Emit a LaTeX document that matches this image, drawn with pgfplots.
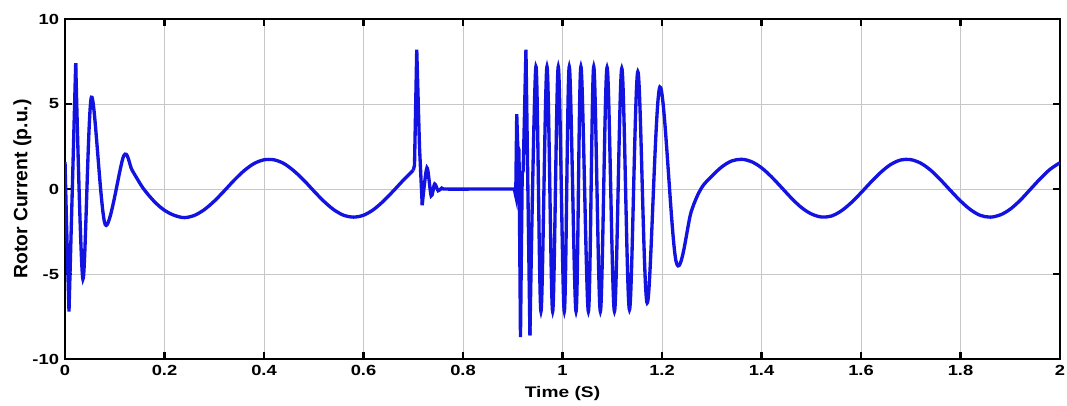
\documentclass[border=0pt]{standalone}
\usepackage{fontspec}
\setmainfont{Liberation Sans}
\usepackage{graphicx}
\usepackage{pgfplots}
\pgfplotsset{compat=1.18}
\usetikzlibrary{calc}
\definecolor{curve}{RGB}{18,18,225}
\newcommand{\sx}[1]{\scalebox{1.25}[1]{#1}}
\begin{document}
\begin{tikzpicture}
\begin{axis}[
  scale only axis,
  width=746pt, height=255pt,
  xmin=0, xmax=2, ymin=-10, ymax=10,
  xtick={0,0.2,...,2.01}, ytick={-10,-5,0,5,10},
  xticklabels={\sx{0},\sx{0.2},\sx{0.4},\sx{0.6},\sx{0.8},\sx{1},\sx{1.2},\sx{1.4},\sx{1.6},\sx{1.8},\sx{2}},
  yticklabels={\sx{-10},\sx{-5},\sx{0},\sx{5},\sx{10}},
  grid=major,
  major grid style={black!22, line width=0.7pt},
  axis line style={black, line width=1.6pt},
  tick style={black, line width=1.6pt},
  tick align=inside, major tick length=5pt,
  xtick pos=both, ytick pos=both,
  ticklabel style={font=\fontsize{11}{12}\selectfont\bfseries},
  xticklabel style={yshift=-1pt},
  yticklabel style={xshift=-1pt},
  xlabel={\sx{Time (S)}}, ylabel={Rotor Current (p.u.)},
  xlabel style={font=\fontsize{11.5}{12}\selectfont\bfseries, at={(axis description cs:0.5,0)}, anchor=north, yshift=-17pt},
  ylabel style={font=\fontsize{14.5}{15}\selectfont\bfseries, yshift=-6pt},
]
\addplot[curve, line width=2.5pt] coordinates {(0,1.6) (0.003,-2) (0.008,-7.2) (0.0215,7.4)};
\addplot[curve, line width=2.5pt, smooth, tension=0.5] coordinates {
(0.0215,7.4) (0.036,-5.3) (0.053,5.4) (0.081,-2.1) (0.118,1.95) (0.135,1.1) (0.157,0.05) (0.18,-0.75)
(0.20,-1.25) (0.22,-1.55) (0.24,-1.68) (0.26,-1.55) (0.28,-1.21) (0.30,-0.71) (0.32,-0.11)
(0.34,0.52) (0.36,1.08) (0.38,1.50) (0.40,1.72) (0.42,1.72) (0.44,1.50) (0.46,1.07) (0.48,0.52)
(0.50,-0.11) (0.52,-0.71) (0.54,-1.21) (0.56,-1.54) (0.58,-1.65) (0.60,-1.54) (0.62,-1.21)
(0.64,-0.71) (0.66,-0.11) (0.68,0.52) (0.70,1.1)};
\addplot[curve, line width=2.5pt] coordinates {(0.70,1.1) (0.7025,1.4) (0.707,8.2) (0.7125,2.5) (0.718,-0.95)};
\addplot[curve, line width=2.5pt, smooth, tension=0.5] coordinates {
(0.718,-0.95) (0.7275,1.25) (0.736,-0.4) (0.743,0.3) (0.750,-0.1) (0.757,0.05) (0.765,0) (0.84,0) (0.903,0)};
\addplot[curve, line width=2.5pt] coordinates {
(0.903,0) (0.906,-0.4) (0.908,4.4) (0.910,2.5) (0.9125,2.3) (0.9155,-8.7) (0.919,0.9) (0.921,1.1)
(0.9265,8.2) (0.9345,-8.6)};
\addplot[curve, line width=2.5pt, smooth, tension=0.55] coordinates {
(0.9345,-8.6) (0.9466,7.2) (0.9567,-7.2) (0.9688,7.2) (0.9802,-7.2) (0.9915,7.2) (1.0036,-7.2)
(1.0136,7.2) (1.0272,-7.2) (1.037,7.2) (1.052,-7.2) (1.0628,7.2) (1.0761,-7.2) (1.0896,7.15)
(1.1044,-7.2) (1.1192,7.1) (1.1346,-7.1) (1.1514,6.9) (1.1702,-6.7) (1.1957,6.0) (1.2286,-4.3)
(1.259,-1.3) (1.279,0.05) (1.30,0.75) (1.32,1.3) (1.34,1.65) (1.36,1.75) (1.38,1.61) (1.40,1.25)
(1.42,0.72) (1.44,0.10) (1.46,-0.53) (1.48,-1.08) (1.50,-1.46) (1.52,-1.64) (1.54,-1.59)
(1.56,-1.29) (1.58,-0.81) (1.60,-0.22) (1.62,0.41) (1.64,0.99) (1.66,1.45) (1.68,1.71) (1.70,1.73)
(1.72,1.52) (1.74,1.11) (1.76,0.54) (1.78,-0.09) (1.80,-0.70) (1.82,-1.21) (1.84,-1.55) (1.86,-1.65)
(1.88,-1.52) (1.90,-1.18) (1.92,-0.66) (1.94,-0.03) (1.96,0.60) (1.98,1.16) (2.00,1.55)};
\end{axis}
\pgfresetboundingbox
\useasboundingbox ($(current axis.south west)+(-48.75pt,-34.5pt)$) rectangle ($(current axis.north east)+(5.25pt,14.25pt)$);
\end{tikzpicture}
\end{document}
